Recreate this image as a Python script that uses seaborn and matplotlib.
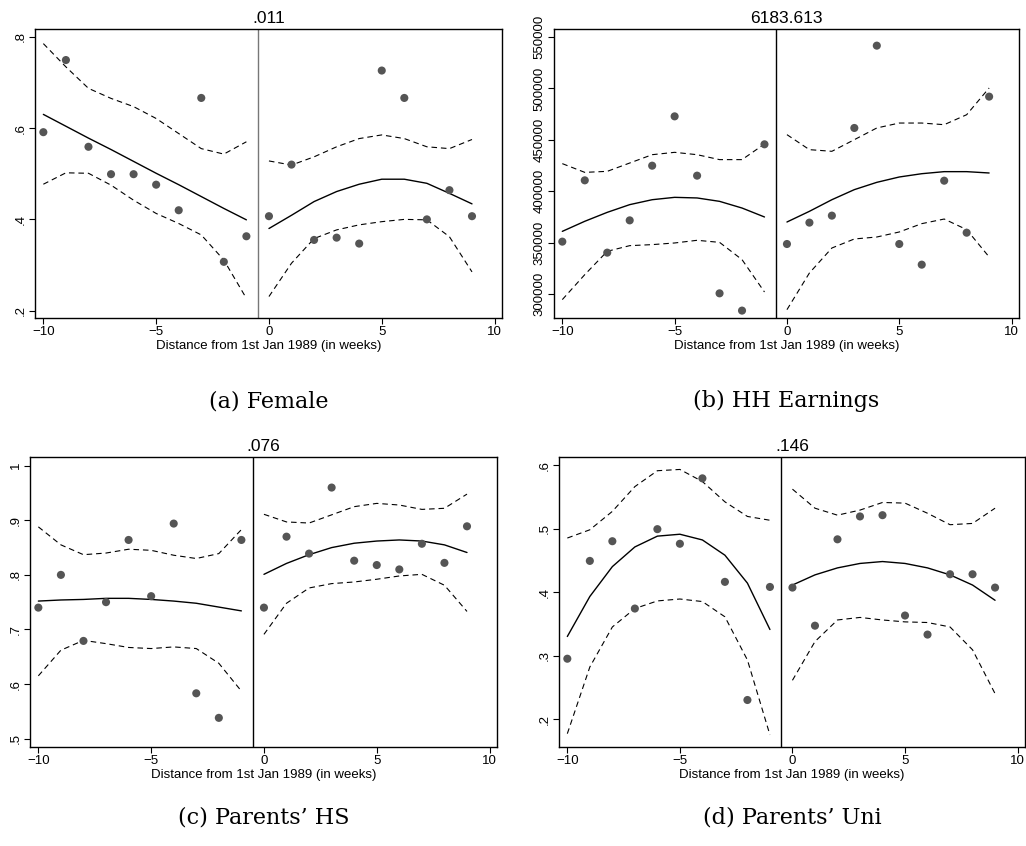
import numpy as np
import pandas as pd
import matplotlib
matplotlib.use("Agg")
import matplotlib.pyplot as plt
import seaborn as sns

# ---------------- data ----------------
weeks = list(range(-10, 10))          # -10 ... 9

titles = [".011", "6183.613", ".076", ".146"]
captions = ["(a) Female", "(b) HH Earnings", "(c) Parents\u2019 HS", "(d) Parents\u2019 Uni"]
xlabel = "Distance from 1st Jan 1989 (in weeks)"

# (a) Female
female_pts = [0.591, 0.749, 0.559, 0.499, 0.499, 0.476, 0.420, 0.666, 0.307, 0.363,
              0.407, 0.520, 0.355, 0.360, 0.347, 0.726, 0.666, 0.400, 0.464, 0.407]
female_fit = [0.630, 0.604, 0.578, 0.553, 0.527, 0.501, 0.476, 0.450, 0.424, 0.399,
              0.380, 0.409, 0.439, 0.461, 0.477, 0.488, 0.488, 0.479, 0.457, 0.434]
female_hi = [0.785, 0.734, 0.687, 0.665, 0.647, 0.621, 0.588, 0.555, 0.543, 0.570,
             0.528, 0.519, 0.537, 0.559, 0.577, 0.585, 0.577, 0.559, 0.555, 0.575]
female_lo = [0.477, 0.502, 0.501, 0.475, 0.442, 0.413, 0.391, 0.366, 0.311, 0.227,
             0.231, 0.304, 0.358, 0.377, 0.388, 0.395, 0.400, 0.399, 0.362, 0.285]

# (b) HH Earnings
earn_pts = [350900, 410550, 340200, 371600, 424800, 472800, 415100, 300600, 283800, 445600,
            348600, 369400, 376200, 461500, 541600, 348600, 328500, 410200, 359600, 492000]
earn_fit = [360900, 370700, 379400, 386900, 391700, 394000, 393400, 390100, 383600, 374900,
            370000, 380400, 391700, 401500, 408600, 413800, 417000, 419000, 419000, 417700]
earn_hi = [426800, 418300, 419300, 427400, 435500, 437800, 435500, 430700, 430700, 445900,
           455000, 440400, 438800, 450100, 461500, 466300, 466300, 464700, 474400, 500400]
earn_lo = [294500, 318800, 341500, 347000, 348000, 349600, 352200, 350200, 333400, 301900,
           284700, 320400, 344700, 353500, 355400, 360300, 368400, 372900, 362600, 336000]

# (c) Parents' HS
hs_pts = [0.740, 0.800, 0.679, 0.750, 0.864, 0.761, 0.894, 0.583, 0.538, 0.864,
          0.740, 0.870, 0.839, 0.960, 0.826, 0.818, 0.810, 0.857, 0.822, 0.889]
hs_fit = [0.752, 0.754, 0.755, 0.757, 0.757, 0.755, 0.752, 0.748, 0.741, 0.734,
          0.801, 0.821, 0.837, 0.850, 0.858, 0.862, 0.864, 0.862, 0.855, 0.841]
hs_hi = [0.888, 0.855, 0.837, 0.840, 0.847, 0.845, 0.836, 0.830, 0.839, 0.883,
         0.911, 0.897, 0.895, 0.910, 0.925, 0.931, 0.928, 0.920, 0.922, 0.948]
hs_lo = [0.615, 0.662, 0.680, 0.674, 0.667, 0.665, 0.668, 0.665, 0.638, 0.587,
         0.691, 0.748, 0.776, 0.784, 0.787, 0.792, 0.798, 0.801, 0.781, 0.733]

# (d) Parents' Uni
uni_pts = [0.295, 0.449, 0.480, 0.374, 0.499, 0.476, 0.579, 0.416, 0.230, 0.408,
           0.407, 0.347, 0.483, 0.519, 0.521, 0.363, 0.333, 0.428, 0.428, 0.407]
uni_fit = [0.330, 0.393, 0.440, 0.471, 0.488, 0.491, 0.482, 0.458, 0.414, 0.341,
           0.411, 0.427, 0.438, 0.445, 0.448, 0.445, 0.438, 0.427, 0.411, 0.387]
uni_hi = [0.485, 0.498, 0.527, 0.566, 0.591, 0.593, 0.574, 0.542, 0.519, 0.513,
          0.562, 0.532, 0.521, 0.529, 0.541, 0.540, 0.524, 0.506, 0.508, 0.532]
uni_lo = [0.177, 0.282, 0.345, 0.374, 0.386, 0.389, 0.385, 0.361, 0.293, 0.175,
          0.261, 0.322, 0.356, 0.360, 0.356, 0.353, 0.352, 0.345, 0.309, 0.240]

yticks = [[0.2, 0.4, 0.6, 0.8],
          [300000, 350000, 400000, 450000, 500000, 550000],
          [0.5, 0.6, 0.7, 0.8, 0.9, 1.0],
          [0.2, 0.3, 0.4, 0.5, 0.6]]
yticklabels = [[".2", ".4", ".6", ".8"],
               ["300000", "350000", "400000", "450000", "500000", "550000"],
               [".5", ".6", ".7", ".8", ".9", "1"],
               [".2", ".3", ".4", ".5", ".6"]]
xticks = [-10, -5, 0, 5, 10]
xticklabels = ["\u221210", "\u22125", "0", "5", "10"]
cutoff = -0.5

# ---------------- layout ----------------
W, H = 1026, 846
sns.set_style("white")
plt.rcParams["font.family"] = ["Liberation Sans", "DejaVu Sans"]
plt.rcParams["text.color"] = "black"
plt.rcParams["axes.labelcolor"] = "black"
plt.rcParams["xtick.color"] = "black"
plt.rcParams["ytick.color"] = "black"

fig = plt.figure(figsize=(W / 100, H / 100), dpi=100)

# (left, right, top, bottom) in pixels
boxes = [(35, 502, 29, 318), (554, 1019, 29, 318),
         (30, 497, 457, 747), (559, 1025, 457, 747)]
ylims = [(0.184, 0.817), (276600, 557800), (0.4846, 1.016), (0.156, 0.6126)]
cutoff_colors = ["#777777", "black", "black", "black"]
caption_baselines = [407, 407, 823, 823]

panels = [(female_pts, female_fit, female_hi, female_lo),
          (earn_pts, earn_fit, earn_hi, earn_lo),
          (hs_pts, hs_fit, hs_hi, hs_lo),
          (uni_pts, uni_fit, uni_hi, uni_lo)]

for i, (pts, fit, hi, lo) in enumerate(panels):
    l, r, t, b = boxes[i]
    ax = fig.add_axes([l / W, 1 - b / H, (r - l) / W, (b - t) / H])
    df = pd.DataFrame({"week": weeks, "y": pts, "fit": fit, "hi": hi, "lo": lo})
    df["side"] = np.where(df["week"] < 0, "left", "right")

    for side in ["left", "right"]:
        d = df[df["side"] == side]
        sns.lineplot(data=d, x="week", y="fit", ax=ax, color="black", lw=1.0,
                     estimator=None, sort=True)
        for col in ["hi", "lo"]:
            sns.lineplot(data=d, x="week", y=col, ax=ax, color="black", lw=0.8,
                         linestyle=(0, (5, 3.5)), estimator=None, sort=True)
    sns.scatterplot(data=df, x="week", y="y", ax=ax, color="#555555", s=34,
                    edgecolor="none", zorder=5)

    ax.axvline(cutoff, color=cutoff_colors[i], lw=1.0, zorder=1)
    ax.set_xlim(-10.37, 10.33)
    ax.set_ylim(*ylims[i])
    ax.set_xticks(xticks)
    ax.set_xticklabels(xticklabels, fontsize=9.5, color="black")
    ax.set_yticks(yticks[i])
    ax.set_yticklabels(yticklabels[i], fontsize=9.5, rotation=90, va="center",
                       color="black")
    ax.set_xlabel(xlabel, fontsize=9.5, labelpad=1, color="black")
    ax.set_ylabel("")
    ax.set_title(titles[i], fontsize=12.5, pad=4, color="black")
    ax.tick_params(axis="both", direction="out", length=4, width=0.8,
                   color="black", labelcolor="black", pad=2, left=True, bottom=True)
    for s in ax.spines.values():
        s.set_visible(True)
        s.set_color("black")
        s.set_linewidth(1.0)

    cx = (l + r) / 2
    fig.text(cx / W, 1 - caption_baselines[i] / H, captions[i], ha="center",
             va="baseline", fontsize=16, color="black",
             family=["DejaVu Serif", "Liberation Serif"])

fig.savefig("out.png", dpi=100)
